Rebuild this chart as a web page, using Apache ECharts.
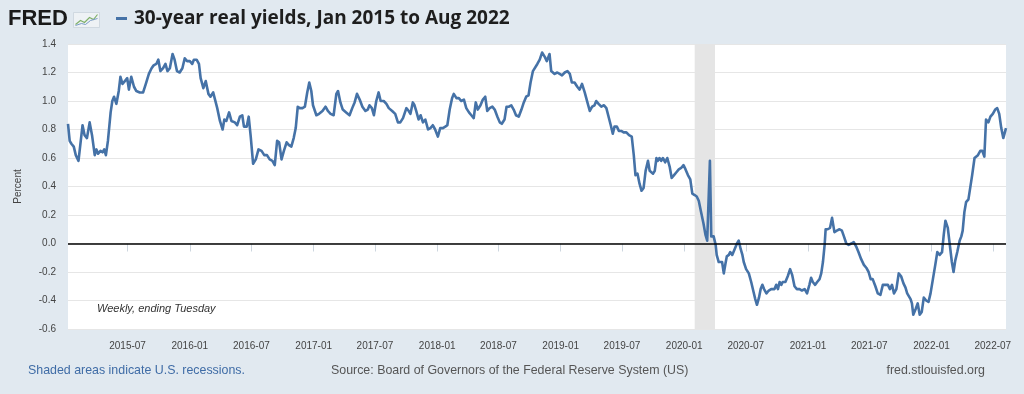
<!DOCTYPE html>
<html>
<head>
<meta charset="utf-8">
<script src="https://cdn.jsdelivr.net/npm/echarts@6/dist/echarts.min.js"></script>
<style>
html,body{margin:0;padding:0;background:#e1e9f0;}
#chart{width:1024px;height:394px;}
</style>
</head>
<body>
<div id="chart"></div>
<script>
// ---- Data (weekly, ending Tuesday) ----
const seriesName = '30-year real yields, Jan 2015 to Aug 2022';

const dates = [
  // 2015
  '2015-01-06','2015-01-11','2015-01-16','2015-01-23','2015-01-29','2015-02-06','2015-02-18','2015-02-24','2015-03-03','2015-03-11','2015-03-18','2015-03-26','2015-03-31','2015-04-05','2015-04-12','2015-04-18','2015-04-23','2015-04-28','2015-05-04','2015-05-12','2015-05-17','2015-05-22','2015-05-29','2015-06-05','2015-06-10','2015-06-16','2015-06-23','2015-06-30','2015-07-05','2015-07-12','2015-07-20','2015-07-27','2015-08-06','2015-08-16','2015-08-24','2015-09-02','2015-09-10','2015-09-16','2015-09-24','2015-09-30','2015-10-06','2015-10-14','2015-10-21','2015-10-27','2015-11-03','2015-11-11','2015-11-17','2015-11-24','2015-12-02','2015-12-10','2015-12-17','2015-12-24',
  // 2016
  '2016-01-01','2016-01-08','2016-01-13','2016-01-21','2016-01-28','2016-02-02','2016-02-10','2016-02-17','2016-02-25','2016-03-02','2016-03-10','2016-03-15','2016-03-22','2016-03-30','2016-04-07','2016-04-12','2016-04-18','2016-04-26','2016-05-03','2016-05-13','2016-05-20','2016-05-28','2016-06-04','2016-06-09','2016-06-17','2016-06-23','2016-06-29','2016-07-06','2016-07-14','2016-07-22','2016-07-31','2016-08-08','2016-08-16','2016-08-24','2016-09-01','2016-09-08','2016-09-15','2016-09-21','2016-09-28','2016-10-05','2016-10-13','2016-10-20','2016-10-27','2016-11-03','2016-11-09','2016-11-15','2016-11-21','2016-11-29','2016-12-06','2016-12-13','2016-12-19','2016-12-25','2016-12-30',
  // 2017
  '2017-01-09','2017-01-17','2017-01-27','2017-02-05','2017-02-12','2017-02-20','2017-03-01','2017-03-09','2017-03-14','2017-03-21','2017-03-28','2017-04-07','2017-04-17','2017-04-25','2017-05-02','2017-05-09','2017-05-17','2017-05-25','2017-06-03','2017-06-10','2017-06-15','2017-06-22','2017-06-28','2017-07-05','2017-07-12','2017-07-18','2017-07-27','2017-08-04','2017-08-11','2017-08-21','2017-08-30','2017-09-07','2017-09-14','2017-09-22','2017-10-02','2017-10-09','2017-10-14','2017-10-21','2017-10-26','2017-10-31','2017-11-07','2017-11-13','2017-11-20','2017-11-27','2017-12-05','2017-12-12','2017-12-19','2017-12-26',
  // 2018
  '2018-01-03','2018-01-10','2018-01-18','2018-01-25','2018-01-31','2018-02-07','2018-02-14','2018-02-19','2018-02-27','2018-03-06','2018-03-13','2018-03-21','2018-03-28','2018-04-05','2018-04-12','2018-04-19','2018-04-25','2018-05-01','2018-05-09','2018-05-16','2018-05-23','2018-05-29','2018-06-05','2018-06-13','2018-06-20','2018-06-28','2018-07-05','2018-07-11','2018-07-19','2018-07-25','2018-08-01','2018-08-08','2018-08-15','2018-08-22','2018-08-30','2018-09-07','2018-09-14','2018-09-21','2018-09-28','2018-10-04','2018-10-11','2018-10-16','2018-10-24','2018-10-31','2018-11-07','2018-11-15','2018-11-21','2018-11-29','2018-12-04','2018-12-09','2018-12-14','2018-12-22','2018-12-29',
  // 2019
  '2019-01-05','2019-01-13','2019-01-21','2019-01-28','2019-02-03','2019-02-11','2019-02-19','2019-02-26','2019-03-05','2019-03-13','2019-03-21','2019-03-28','2019-04-04','2019-04-11','2019-04-16','2019-04-23','2019-05-01','2019-05-09','2019-05-16','2019-05-21','2019-05-29','2019-06-04','2019-06-09','2019-06-16','2019-06-22','2019-06-29','2019-07-06','2019-07-14','2019-07-22','2019-07-30','2019-08-05','2019-08-10','2019-08-16','2019-08-22','2019-08-28','2019-09-03','2019-09-09','2019-09-16','2019-09-21','2019-09-26','2019-10-01','2019-10-06','2019-10-11','2019-10-15','2019-10-20','2019-10-25','2019-10-30','2019-11-06','2019-11-12','2019-11-19','2019-11-25','2019-12-02','2019-12-09','2019-12-16','2019-12-23','2019-12-30',
  // 2020
  '2020-01-05','2020-01-12','2020-01-19','2020-01-25','2020-02-01','2020-02-07','2020-02-13','2020-02-20','2020-02-27','2020-03-04','2020-03-09','2020-03-13','2020-03-17','2020-03-21','2020-03-28','2020-04-03','2020-04-06','2020-04-12','2020-04-17','2020-04-22','2020-04-27','2020-05-02','2020-05-06','2020-05-12','2020-05-16','2020-05-22','2020-05-29','2020-06-05','2020-06-10','2020-06-16','2020-06-21','2020-06-25','2020-07-02','2020-07-10','2020-07-17','2020-07-24','2020-07-29','2020-08-03','2020-08-09','2020-08-14','2020-08-19','2020-08-24','2020-08-31','2020-09-07','2020-09-14','2020-09-19','2020-09-24','2020-09-29','2020-10-04','2020-10-09','2020-10-14','2020-10-18','2020-10-26','2020-11-02','2020-11-09','2020-11-15','2020-11-22','2020-11-29','2020-12-07','2020-12-14','2020-12-22','2020-12-29',
  // 2021
  '2021-01-05','2021-01-10','2021-01-15','2021-01-22','2021-01-28','2021-02-04','2021-02-09','2021-02-14','2021-02-19','2021-02-22','2021-02-28','2021-03-07','2021-03-13','2021-03-20','2021-03-27','2021-04-04','2021-04-11','2021-04-17','2021-04-24','2021-05-01','2021-05-09','2021-05-16','2021-05-23','2021-05-30','2021-06-07','2021-06-15','2021-06-22','2021-06-29','2021-07-05','2021-07-11','2021-07-19','2021-07-26','2021-08-03','2021-08-10','2021-08-17','2021-08-25','2021-08-31','2021-09-06','2021-09-12','2021-09-19','2021-09-26','2021-10-03','2021-10-10','2021-10-16','2021-10-21','2021-10-26','2021-10-31','2021-11-04','2021-11-08','2021-11-15','2021-11-21','2021-11-27','2021-12-03','2021-12-09','2021-12-16','2021-12-23','2021-12-29',
  // 2022
  '2022-01-05','2022-01-12','2022-01-18','2022-01-25','2022-02-01','2022-02-06','2022-02-11','2022-02-18','2022-02-23','2022-03-02','2022-03-07','2022-03-12','2022-03-18','2022-03-25','2022-03-30','2022-04-03','2022-04-08','2022-04-13','2022-04-20','2022-04-25','2022-05-01','2022-05-08','2022-05-13','2022-05-18','2022-05-25','2022-05-31','2022-06-06','2022-06-11','2022-06-18','2022-06-24','2022-07-01','2022-07-08','2022-07-14','2022-07-20','2022-07-26','2022-08-01','2022-08-09'
];

const values = [
  // 2015
  0.84,0.72,0.70,0.68,0.62,0.58,0.83,0.76,0.74,0.85,0.76,0.62,0.66,0.63,0.65,0.64,0.66,0.62,0.72,0.92,1.00,1.03,0.98,1.07,1.17,1.12,1.14,1.16,1.08,1.17,1.10,1.07,1.06,1.06,1.12,1.19,1.23,1.25,1.26,1.29,1.21,1.23,1.26,1.21,1.23,1.33,1.29,1.21,1.20,1.23,1.30,1.28,
  // 2016
  1.28,1.26,1.29,1.29,1.26,1.16,1.09,1.14,1.05,1.03,1.06,1.07,0.95,0.86,0.80,0.87,0.86,0.92,0.86,0.85,0.83,0.89,0.90,0.82,0.82,0.89,0.75,0.56,0.59,0.66,0.65,0.62,0.62,0.59,0.58,0.55,0.72,0.71,0.59,0.65,0.71,0.69,0.68,0.74,0.81,0.96,0.95,0.95,0.96,1.06,1.13,1.07,0.97,
  // 2017
  0.90,0.91,0.93,0.96,0.93,0.91,0.90,1.05,1.07,0.99,0.94,0.92,0.90,0.95,0.99,1.05,1.01,0.96,0.93,0.94,0.97,0.95,0.90,1.00,1.06,1.00,1.00,0.98,0.95,0.93,0.91,0.85,0.85,0.88,0.95,0.93,0.91,0.99,0.97,0.93,0.87,0.90,0.85,0.87,0.80,0.81,0.83,0.80,
  // 2018
  0.75,0.81,0.81,0.82,0.83,0.94,1.02,1.05,1.02,1.02,1.00,1.01,0.95,0.92,0.90,0.88,0.99,0.94,0.97,1.01,1.03,0.93,0.95,0.96,0.94,0.89,0.85,0.84,0.87,0.96,0.96,0.97,0.94,0.90,0.89,0.94,0.99,1.03,1.04,1.13,1.21,1.21,1.26,1.29,1.34,1.31,1.28,1.33,1.21,1.22,1.19,1.20,1.19,
  // 2019
  1.18,1.20,1.21,1.19,1.13,1.13,1.10,1.08,1.12,1.06,0.99,0.93,0.96,0.97,1.00,0.98,0.96,0.97,0.95,0.94,0.83,0.77,0.82,0.82,0.79,0.79,0.78,0.78,0.76,0.75,0.62,0.48,0.49,0.42,0.37,0.39,0.51,0.58,0.51,0.52,0.49,0.51,0.60,0.58,0.60,0.58,0.60,0.57,0.60,0.54,0.46,0.48,0.50,0.52,0.53,0.55,
  // 2020
  0.52,0.48,0.45,0.35,0.34,0.33,0.30,0.22,0.14,0.06,0.02,0.02,0.58,0.05,0.05,-0.01,-0.08,-0.13,-0.12,-0.13,-0.21,-0.14,-0.09,-0.08,-0.06,-0.08,-0.04,0.00,0.02,-0.04,-0.08,-0.13,-0.18,-0.21,-0.27,-0.34,-0.39,-0.43,-0.38,-0.32,-0.29,-0.32,-0.35,-0.33,-0.32,-0.31,-0.32,-0.29,-0.32,-0.27,-0.29,-0.27,-0.27,-0.23,-0.18,-0.22,-0.30,-0.32,-0.32,-0.33,-0.32,-0.35,
  // 2021
  -0.29,-0.24,-0.27,-0.29,-0.27,-0.25,-0.21,-0.13,-0.01,0.10,0.10,0.11,0.18,0.08,0.09,0.10,0.09,0.05,0.00,-0.01,0.00,0.01,-0.02,-0.06,-0.11,-0.15,-0.17,-0.20,-0.25,-0.25,-0.30,-0.35,-0.36,-0.29,-0.29,-0.29,-0.32,-0.29,-0.35,-0.32,-0.21,-0.23,-0.28,-0.31,-0.35,-0.34,-0.39,-0.42,-0.50,-0.46,-0.42,-0.50,-0.48,-0.38,-0.40,-0.41,-0.35,
  // 2022
  -0.25,-0.15,-0.06,-0.08,-0.06,0.06,0.16,0.11,0.01,-0.13,-0.20,-0.12,-0.06,0.02,0.05,0.09,0.22,0.29,0.31,0.32,0.48,0.60,0.60,0.62,0.65,0.65,0.61,0.87,0.85,0.89,0.91,0.94,0.95,0.91,0.81,0.74,0.81
];

const tickLabels = ['2015-07','2016-01','2016-07','2017-01','2017-07','2018-01','2018-07','2019-01','2019-07','2020-01','2020-07','2021-01','2021-07','2022-01','2022-07'];
const recessionStart = '2020-02-01';
const recessionEnd = '2020-04-01';
const yMin = -0.6, yMax = 1.4, yStep = 0.2;

// ---- Build ----
function toTime(s) { const p = s.split('-'); return new Date(+p[0], +p[1] - 1, p[2] ? +p[2] : 1).getTime(); }
function pad(n){ return n < 10 ? '0' + n : '' + n; }
const lineData = dates.map((d, i) => [toTime(d), values[i]]);
const tickTimes = tickLabels.map(toTime);

const chart = echarts.init(document.getElementById('chart'), null, {renderer: 'canvas'});
const labelFont = '"Liberation Sans", Arial, sans-serif';
const footFont = '12.4px "Liberation Sans", Arial, sans-serif';

chart.setOption({
  animation: false,
  backgroundColor: '#e1e9f0',
  legend: {
    data: [seriesName],
    left: 116, top: 9, padding: 0,
    icon: 'rect', itemWidth: 11, itemHeight: 3, itemGap: 0,
    selectedMode: false,
    textStyle: { fontSize: 19, fontWeight: 'bold', color: '#1e1e1e', fontFamily: '"Open Sans", Lato, sans-serif', padding: [0, 0, 0, 2] }
  },
  grid: {
    left: 68, right: 18, top: 44, bottom: 65,
    show: true, backgroundColor: '#ffffff', borderWidth: 0
  },
  xAxis: {
    type: 'value',
    min: toTime(dates[0]), max: toTime(dates[dates.length - 1]),
    axisLine: { show: false },
    splitLine: { show: false },
    axisTick: { show: true, length: 8, lineStyle: { color: '#cdd6df', width: 1 }, customValues: tickTimes },
    axisLabel: {
      customValues: tickTimes,
      margin: 12,
      fontSize: 10, color: '#444', fontFamily: labelFont,
      formatter: function (v) { const d = new Date(v); return d.getFullYear() + '-' + pad(d.getMonth() + 1); }
    }
  },
  yAxis: {
    type: 'value',
    min: yMin, max: yMax, interval: yStep,
    name: 'Percent', nameLocation: 'middle', nameRotate: 90, nameGap: 45,
    nameTextStyle: { fontSize: 10, color: '#444', fontFamily: labelFont },
    axisLine: { show: false }, axisTick: { show: false },
    splitLine: { lineStyle: { color: '#e6e6e6', width: 1 } },
    axisLabel: {
      fontSize: 10, color: '#444', fontFamily: labelFont, margin: 12,
      formatter: function (v) { return (Math.abs(v) < 1e-9 ? 0 : v).toFixed(1); }
    }
  },
  series: [{
    name: seriesName,
    type: 'line',
    data: lineData,
    showSymbol: false,
    symbol: 'none',
    color: '#4572a7',
    lineStyle: { color: '#4572a7', width: 2.6, join: 'round' },
    z: 3,
    markArea: {
      silent: true,
      itemStyle: { color: '#e5e5e5' },
      data: [[{ xAxis: toTime(recessionStart) }, { xAxis: toTime(recessionEnd) }]]
    },
    markLine: {
      silent: true,
      symbol: ['none', 'none'],
      label: { show: false },
      lineStyle: { color: '#000', width: 1.6, type: 'solid' },
      data: [{ yAxis: 0 }]
    }
  }],
  graphic: [
    { type: 'text', left: 8, top: 8, style: { text: 'FRED', font: 'bold 22px "Liberation Sans", Arial, sans-serif', fill: '#1a1a1a' } },
    { type: 'group', left: 73, top: 12, children: [
      { type: 'rect', shape: { x: 0, y: 0, width: 26, height: 15 }, style: { fill: '#eef2f5', stroke: '#c9d3dc', lineWidth: 0.8 } },
      { type: 'polyline', shape: { points: [[2,12],[7,8],[11,10],[16,5],[20,7],[24,2]] }, style: { stroke: '#7fb069', lineWidth: 1.2, fill: null } },
      { type: 'polyline', shape: { points: [[2,13],[8,11],[12,12],[17,8],[24,6]] }, style: { stroke: '#7a9cc6', lineWidth: 1, fill: null } }
    ]},
    { type: 'text', left: 97, top: 303, style: { text: 'Weekly, ending Tuesday', font: 'italic 11px "Liberation Sans", Arial, sans-serif', fill: '#333' } },
    { type: 'text', left: 28, top: 365, style: { text: 'Shaded areas indicate U.S. recessions.', font: footFont, fill: '#3f6ca6' } },
    { type: 'text', left: 331, top: 365, style: { text: 'Source: Board of Governors of the Federal Reserve System (US)', font: footFont, fill: '#555' } },
    { type: 'text', right: 39, top: 365, style: { text: 'fred.stlouisfed.org', font: footFont, fill: '#555' } }
  ]
});
</script>
</body>
</html>
